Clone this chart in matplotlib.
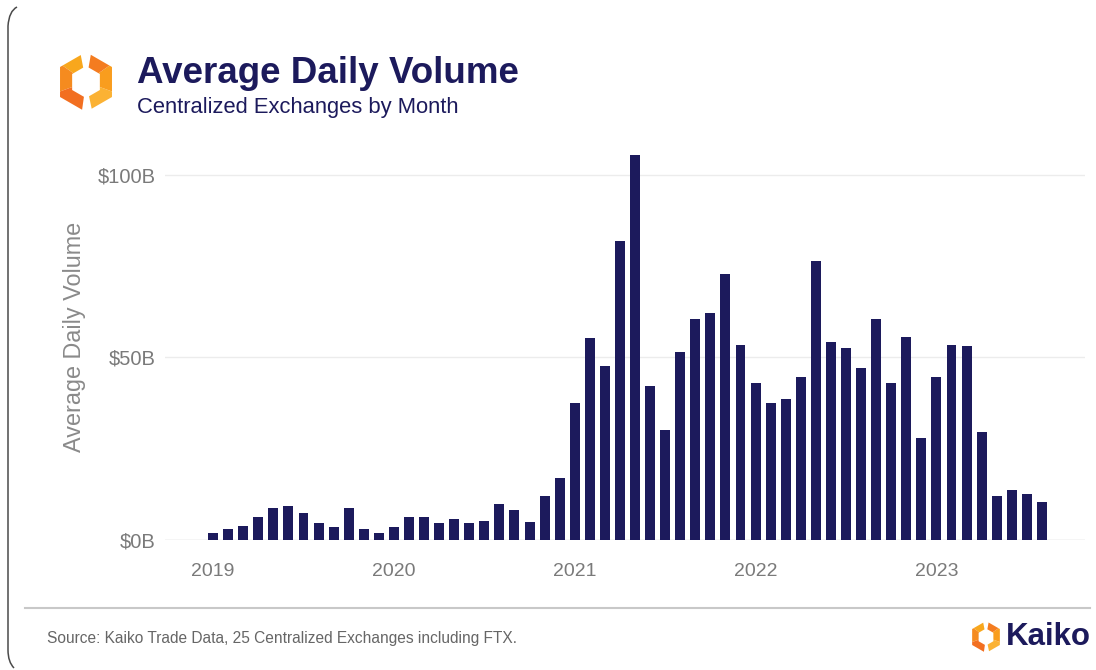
import numpy as np
import pandas as pd
import matplotlib
matplotlib.use("Agg")
import matplotlib.pyplot as plt
from matplotlib.patches import Polygon
from matplotlib.path import Path
from matplotlib.patches import PathPatch

# ---- data: average daily volume on centralized exchanges, $B per month ----
volume_bn = [
    1.9, 2.9, 3.9, 6.3, 8.8, 9.3, 7.3, 4.6, 3.6, 8.8,
    2.9, 1.8, 3.6, 6.3, 6.3, 4.6, 5.7, 4.6, 5.1, 9.9,
    8.3, 5.0, 12.0, 16.9, 37.6, 55.2, 47.7, 81.9, 105.4, 42.3,
    30.1, 51.5, 60.5, 62.2, 72.9, 53.5, 42.9, 37.6, 38.7, 44.6,
    76.5, 54.2, 52.5, 47.2, 60.5, 42.9, 55.7, 27.9, 44.6, 53.5,
    53.0, 29.6, 12.0, 13.7, 12.5, 10.3,
]
months = pd.date_range("2019-01-01", periods=len(volume_bn), freq="MS")
year_labels = ["2019", "2020", "2021", "2022", "2023"]
y_ticks = [0, 50, 100]
y_tick_labels = ["$0B", "$50B", "$100B"]

NAVY = "#1c1a5c"
GRAY_TXT = "#7a7a7a"
FONT = "Liberation Sans"

W, H = 1096, 670
fig = plt.figure(figsize=(W / 100, H / 100), dpi=100)
fig.patch.set_facecolor("white")


def fig_box(x0, y0, x1, y1):
    """pixel box (top-left origin) -> figure fraction rect"""
    return [x0 / W, 1 - y1 / H, (x1 - x0) / W, (y1 - y0) / H]


# ---- main bar chart ----
ax = fig.add_axes(fig_box(165, 150, 1085, 540))
ax.set_facecolor("none")
x = np.arange(len(volume_bn))
ax.bar(x, volume_bn, width=0.66, color=NAVY, zorder=3)

ax.set_xlim(-3.19, 57.86)
ax.set_ylim(0, 106.8)
ax.set_yticks(y_ticks)
ax.set_yticklabels(y_tick_labels, fontfamily=FONT, fontsize=14.5, color=GRAY_TXT)
year_pos = [i for i, m in enumerate(months) if m.month == 1]
ax.set_xticks(year_pos)
ax.set_xticklabels(year_labels, fontfamily=FONT, fontsize=14, color=GRAY_TXT)
ax.tick_params(axis="both", length=0)
ax.tick_params(axis="y", pad=7)
ax.tick_params(axis="x", pad=16.5)
ax.grid(axis="y", color="#ececec", linewidth=1.0, zorder=0)
for s in ax.spines.values():
    s.set_visible(False)
ax.axhline(0, color="#dddddd", linewidth=1.0, zorder=1)
ax.set_ylabel("Average Daily Volume", fontfamily=FONT, fontsize=16.8,
              color="#8a8a8a", va="center")
ax.yaxis.set_label_coords(-(165 - 74) / 920, (540 - 337) / 390)

# ---- decoration layer in pixel coordinates ----
deco = fig.add_axes([0, 0, 1, 1], zorder=-1)
deco.set_xlim(0, W)
deco.set_ylim(H, 0)
deco.axis("off")
deco.patch.set_visible(False)

# card edge on the left
verts = [(17, 7), (9, 11), (8, 26), (8, 650), (8, 662), (14, 668)]
codes = [Path.MOVETO, Path.CURVE3, Path.CURVE3, Path.LINETO, Path.CURVE3, Path.CURVE3]
deco.add_patch(PathPatch(Path(verts, codes), fill=False, edgecolor="#4a4a4a", lw=1.1))


def hex_r(theta_deg, R, rot):
    a = R * np.cos(np.radians(30))
    t = (theta_deg - rot) % 60 - 30
    return a / np.cos(np.radians(t))


def ring_piece(cx, cy, R, r, a0, a1, rot=30):
    angs = np.linspace(a0, a1, 80)
    outer = [(cx + hex_r(a, R, rot) * np.cos(np.radians(a)),
              cy - hex_r(a, R, rot) * np.sin(np.radians(a))) for a in angs]
    inner = [(cx + hex_r(a, r, rot) * np.cos(np.radians(a)),
              cy - hex_r(a, r, rot) * np.sin(np.radians(a))) for a in angs[::-1]]
    return outer + inner


def kaiko_mark(axd, cx, cy, R, r):
    # two bracket halves of a hexagonal ring, each shaded yellow→orange
    pieces = [
        (101, 145, "#f8a71d"),
        (145, 200, "#f58b1f"),
        (200, 262, "#f26f21"),
        (-78, -20, "#fbb234"),
        (-20, 35, "#f99d1e"),
        (35, 80, "#f47c20"),
    ]
    for a0, a1, col in pieces:
        axd.add_patch(Polygon(ring_piece(cx, cy, R, r, a0, a1), closed=True,
                              facecolor=col, edgecolor="none"))


kaiko_mark(deco, 86, 82, 30, 16)
kaiko_mark(deco, 986, 637, 16, 8.5)

# titles
deco.text(137, 83, "Average Daily Volume", fontfamily=FONT, fontweight="bold",
          fontsize=26.5, color=NAVY, va="baseline", ha="left")
deco.text(137, 113, "Centralized Exchanges by Month", fontfamily=FONT,
          fontsize=15.8, color=NAVY, va="baseline", ha="left")

# footer
deco.plot([25, 1090], [608, 608], color="#c8c8c8", lw=1.5)
deco.text(47, 638, "Source: Kaiko Trade Data, 25 Centralized Exchanges including FTX.",
          fontfamily=FONT, fontsize=11.2, color="#666666", va="center", ha="left")
deco.text(1006, 637, "Kaiko", fontfamily=FONT, fontweight="bold", fontsize=22.5,
          color=NAVY, va="center", ha="left")

fig.savefig("out.png", dpi=100, facecolor="white")
